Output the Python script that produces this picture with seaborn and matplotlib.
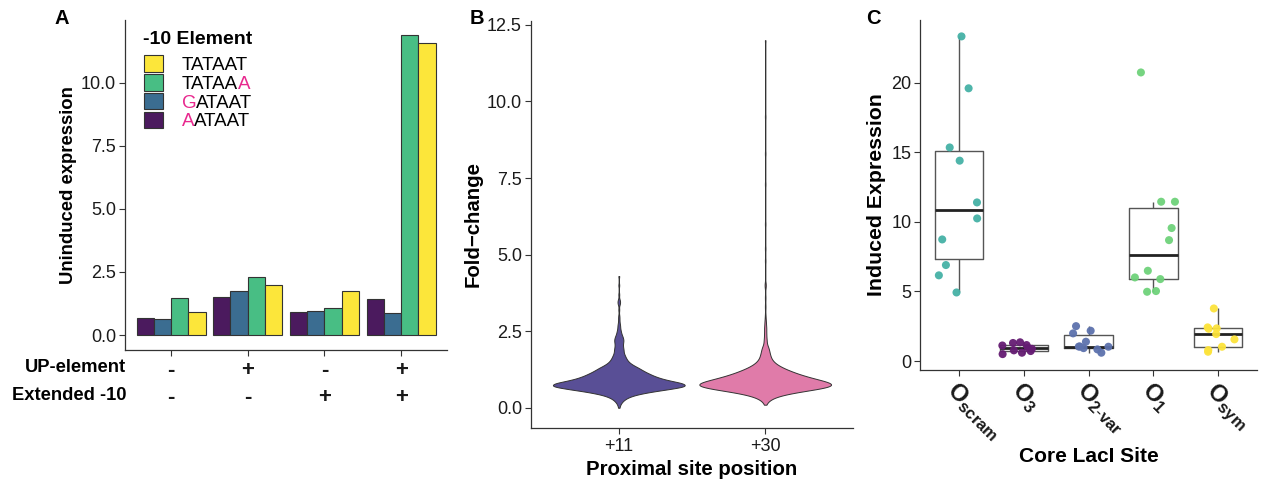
import numpy as np
import pandas as pd
import seaborn as sns
import matplotlib.pyplot as plt
from matplotlib.patches import Patch

# ---- panel A: uninduced expression by -10 element ----
combos = ['c1', 'c2', 'c3', 'c4']
up_element = ['-', '+', '-', '+']
extended_10 = ['-', '-', '+', '+']
elements = ['AATAAT', 'GATAAT', 'TATAAA', 'TATAAT']
uninduced_AATAAT = [0.68, 1.50, 0.92, 1.42]
uninduced_GATAAT = [0.62, 1.76, 0.96, 0.87]
uninduced_TATAAA = [1.45, 2.29, 1.08, 11.88]
uninduced_TATAAT = [0.91, 1.97, 1.74, 11.57]
bar_colors = ['#4B1A5E', '#3B6D91', '#48BE84', '#FCE63A']

# ---- panel B: fold-change distributions (value, count) ----
positions = ['+11', '+30']
fc11_values = [0.0, 0.1, 0.2, 0.3, 0.4, 0.5, 0.6, 0.7, 0.8, 0.9, 1.0, 1.1, 1.2, 1.3,
               1.4, 1.5, 1.6, 1.7, 1.8, 1.9, 2.0, 2.1, 2.2, 2.3, 2.4, 2.5, 2.6, 2.7,
               2.8, 2.9, 3.0, 3.2, 3.4, 3.5, 3.7, 4.0, 4.3]
fc11_counts = [1, 2, 5, 10, 20, 40, 70, 100, 95, 70, 55, 45, 36, 29,
               20, 14, 11, 9, 7, 7, 6, 6, 7, 6, 4, 3, 2, 2,
               1, 1, 1, 1, 2, 2, 1, 1, 1]
fc30_values = [0.1, 0.2, 0.3, 0.4, 0.5, 0.6, 0.7, 0.8, 0.9, 1.0, 1.1, 1.2, 1.3, 1.4,
               1.5, 1.6, 1.7, 1.8, 1.9, 2.0, 2.2, 2.4, 2.6, 2.8, 3.0, 3.3, 3.6, 4.0,
               4.8, 5.2, 6.0, 7.3, 8.3, 9.5, 12.0]
fc30_counts = [1, 3, 8, 18, 38, 68, 100, 95, 75, 58, 45, 34, 24, 16,
               11, 8, 7, 6, 5, 5, 4, 3, 3, 2, 1, 1, 1, 2,
               1, 1, 1, 1, 1, 1, 1]
violin_colors = ['#594F96', '#E07BA9']

# ---- panel C: induced expression per core LacI site ----
sites = ['scram', '3', '2-var', '1', 'sym']
expr_scram = [23.33, 19.6, 15.35, 14.4, 11.4, 10.25, 8.74, 6.9, 6.16, 4.93]
expr_O3 = [0.5, 0.6, 0.72, 0.77, 0.88, 0.95, 1.12, 1.15, 1.3, 1.35]
expr_O2var = [1.04, 0.84, 1.39, 1.99, 2.18, 0.6, 1.05, 2.51, 0.93, 1.03]
expr_O1 = [11.45, 11.45, 9.56, 8.69, 6.49, 6.01, 5.89, 5.03, 4.98, 20.74]
expr_sym = [3.78, 2.35, 2.42, 2.32, 1.94, 1.56, 1.03, 0.79, 0.67]
site_colors = ['#45B1A6', '#651C73', '#5D72AD', '#6FD27A', '#FCE33C']

pink = '#E8288E'
dark = '#333333'

sns.set_style('ticks')
plt.rcParams['font.family'] = ['Liberation Sans', 'DejaVu Sans']
plt.rcParams['mathtext.fontset'] = 'custom'
plt.rcParams['mathtext.rm'] = 'Liberation Sans'
plt.rcParams['mathtext.bf'] = 'Liberation Sans:bold'
plt.rcParams['text.color'] = 'black'
plt.rcParams['axes.labelcolor'] = 'black'
plt.rcParams['axes.edgecolor'] = dark
plt.rcParams['xtick.color'] = dark
plt.rcParams['ytick.color'] = dark
plt.rcParams['xtick.labelcolor'] = '#1a1a1a'
plt.rcParams['ytick.labelcolor'] = '#1a1a1a'

fig = plt.figure(figsize=(12.63, 4.79), dpi=100)
axA = fig.add_axes([0.099, 0.2693, 0.255, 0.6887])
axB = fig.add_axes([0.4204, 0.1065, 0.255, 0.8505])
axC = fig.add_axes([0.7287, 0.2276, 0.2665, 0.7304])

for ax in (axA, axB, axC):
    sns.despine(ax=ax)
    ax.tick_params(length=4, width=0.8, labelsize=13)
    ax.tick_params(axis='y', pad=2.5)
    for s in ('left', 'bottom'):
        ax.spines[s].set_linewidth(0.9)

# panel A
dfa = pd.DataFrame({
    'combo': combos * 4,
    'element': np.repeat(elements, 4),
    'expr': uninduced_AATAAT + uninduced_GATAAT + uninduced_TATAAA + uninduced_TATAAT,
})
sns.barplot(data=dfa, x='combo', y='expr', hue='element', hue_order=elements,
            palette=bar_colors, width=0.9, saturation=1, edgecolor=dark,
            linewidth=0.8, legend=False, ax=axA)
axA.set_xlim(-0.6, 3.6)
axA.set_ylim(-0.59, 12.47)
axA.set_yticks([0, 2.5, 5, 7.5, 10])
axA.set_yticklabels(['0.0', '2.5', '5.0', '7.5', '10.0'])
axA.set_xticks(range(4))
axA.set_xticklabels([f'{u}\n{e}' for u, e in zip(up_element, extended_10)],
                    fontsize=16, fontweight='bold', linespacing=1.32)
axA.set_xlabel('')
axA.set_ylabel('Uninduced expression', fontsize=13.3, fontweight='bold', labelpad=3)
fig.text(0.0998, 1 - 368 / 479, 'UP-element', ha='right', va='center',
         fontsize=13.2, fontweight='bold')
fig.text(0.0998, 1 - 396 / 479, 'Extended -10', ha='right', va='center',
         fontsize=13.2, fontweight='bold')

handles = [Patch(facecolor=c, edgecolor=dark, linewidth=0.8) for c in bar_colors][::-1]
leg = axA.legend(handles, ['TATAAT', 'TATAA', 'G', 'A'],
                 loc='upper left', bbox_to_anchor=(0.059, 0.894), frameon=False,
                 fontsize=13.5, labelcolor='black',
                 handlelength=1.0, handleheight=1.0, labelspacing=0.0,
                 handletextpad=1.0, borderpad=0, borderaxespad=0)
axA.text(0.056, 0.94, '-10 Element', transform=axA.transAxes, ha='left', va='center',
         fontsize=14, fontweight='bold')
texts = leg.get_texts()
texts[2].set_color(pink)
texts[3].set_color(pink)
for t, rest, col in [(texts[1], 'A', pink), (texts[2], 'ATAAT', 'black'),
                     (texts[3], 'ATAAT', 'black')]:
    axA.annotate(rest, xy=(1, 0), xycoords=t, ha='left', va='bottom',
                 fontsize=13.5, color=col, annotation_clip=False, zorder=10)

# panel B
dfb = pd.DataFrame({
    'pos': ['+11'] * sum(fc11_counts) + ['+30'] * sum(fc30_counts),
    'fc': np.concatenate([np.repeat(fc11_values, fc11_counts),
                          np.repeat(fc30_values, fc30_counts)]),
})
sns.violinplot(data=dfb, x='pos', y='fc', hue='pos', order=positions,
               palette=violin_colors, saturation=1, density_norm='width',
               width=0.9, cut=0, inner=None, linewidth=0.7, linecolor=dark,
               bw_method=0.12, gridsize=800, legend=False, ax=axB)
axB.set_xlim(-0.6, 1.6)
axB.set_ylim(-0.66, 12.64)
axB.set_yticks([0, 2.5, 5, 7.5, 10, 12.5])
axB.set_yticklabels(['0.0', '2.5', '5.0', '7.5', '10.0', '12.5'])
axB.set_xlabel('Proximal site position', fontsize=14.7, fontweight='bold', labelpad=3)
axB.set_ylabel('Fold\u2212change', fontsize=14.7, fontweight='bold', labelpad=3)

# panel C
all_expr = [expr_scram, expr_O3, expr_O2var, expr_O1, expr_sym]
dfc = pd.DataFrame({
    'site': np.concatenate([[s] * len(v) for s, v in zip(sites, all_expr)]),
    'expr': np.concatenate(all_expr),
})
sns.boxplot(data=dfc, x='site', y='expr', order=sites, width=0.75, showfliers=False,
            showcaps=False, fill=False, color='#555555', linewidth=1.0,
            medianprops={'linewidth': 2, 'color': '#222222'}, ax=axC)
np.random.seed(3)
sns.stripplot(data=dfc, x='site', y='expr', order=sites, hue='site', hue_order=sites,
              palette=site_colors, jitter=0.35, size=5.8, linewidth=0, alpha=0.95,
              legend=False, zorder=3, ax=axC)
axC.set_xlim(-0.6, 4.6)
axC.set_ylim(-0.64, 24.5)
axC.set_yticks([0, 5, 10, 15, 20])
axC.set_xticks(range(5))
axC.set_xticklabels([r'$\mathbf{O}_{\mathbf{' + s.replace('-', '{\\text{-}}') + '}}$'
                     for s in sites], fontsize=17, rotation=-45, ha='left',
                    rotation_mode='anchor', va='top')
axC.tick_params(axis='x', pad=2)
axC.set_xlabel('Core LacI Site', fontsize=15, fontweight='bold', labelpad=2)
axC.set_ylabel('Induced Expression', fontsize=15.3, fontweight='bold', labelpad=4)

fig.text(62 / 1263, 1 - 18 / 479, 'A', fontsize=14.5, fontweight='bold', ha='center', va='center')
fig.text(477 / 1263, 1 - 18 / 479, 'B', fontsize=14.5, fontweight='bold', ha='center', va='center')
fig.text(873 / 1263, 1 - 18 / 479, 'C', fontsize=14.5, fontweight='bold', ha='center', va='center')

fig.savefig('out.png', dpi=100)
